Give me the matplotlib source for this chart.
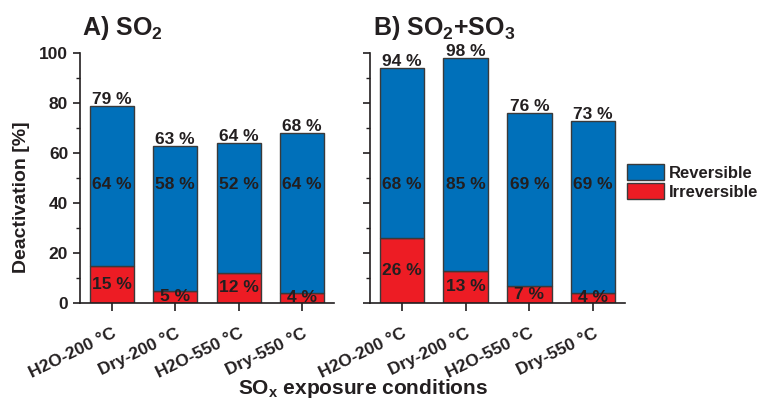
import numpy as np
import matplotlib
matplotlib.use("Agg")
import matplotlib.pyplot as plt
from matplotlib.ticker import MultipleLocator

plt.rcParams['font.family'] = ['Liberation Sans', 'DejaVu Sans']
plt.rcParams['font.weight'] = 'bold'
plt.rcParams['mathtext.fontset'] = 'custom'
plt.rcParams['mathtext.rm'] = 'Liberation Sans:bold'
plt.rcParams['mathtext.bf'] = 'Liberation Sans:bold'
plt.rcParams['mathtext.it'] = 'Liberation Sans:bold'

# Data
conditions = ['H2O-200 °C', 'Dry-200 °C', 'H2O-550 °C', 'Dry-550 °C']
irrev_a = [15, 5, 12, 4]
rev_a = [64, 58, 52, 64]
irrev_b = [26, 13, 7, 4]
rev_b = [68, 85, 69, 69]

BLUE = '#0070BA'
RED = '#ED1C24'
EDGE = '#3a3a3a'
TXT = '#231F20'

fig = plt.figure(figsize=(7.61, 4.0), dpi=100)
ax_a = fig.add_axes([80 / 761, 1 - 303 / 400, 254 / 761, 250 / 400])
ax_b = fig.add_axes([370 / 761, 1 - 303 / 400, 255 / 761, 250 / 400])


def draw_panel(ax, irrev, rev, show_labels):
    x = np.arange(1, len(conditions) + 1)
    irrev = np.array(irrev)
    rev = np.array(rev)
    total = irrev + rev
    ax.bar(x, irrev, width=0.7, color=RED, edgecolor=EDGE, linewidth=1,
           label='Irreversible')
    ax.bar(x, rev, bottom=irrev, width=0.7, color=BLUE, edgecolor=EDGE,
           linewidth=1, label='Reversible')

    for xi, ir, rv, tt in zip(x, irrev, rev, total):
        ax.text(xi, tt - 0.5, f'{tt} %', ha='center', va='bottom',
                fontsize=12.5, color=TXT)
        ax.text(xi, 47.5, f'{rv} %', ha='center', va='center',
                fontsize=12.5, color=TXT)
        ax.text(xi, max(ir / 2, 2.2), f'{ir} %', ha='center', va='center',
                fontsize=12.5, color=TXT)

    ax.set_xlim(0.5, 4.5)
    ax.set_ylim(0, 100)
    ax.set_xticks(x)
    ax.set_xticklabels(conditions, rotation=26, ha='right',
                       rotation_mode='anchor', fontsize=12.5, color=TXT)
    ax.yaxis.set_major_locator(MultipleLocator(20))
    ax.yaxis.set_minor_locator(MultipleLocator(10))
    ax.tick_params(axis='both', which='major', direction='out', length=5,
                   width=1.2, color=TXT, labelsize=12.5, labelcolor=TXT)
    ax.tick_params(axis='y', which='minor', direction='out', length=3,
                   width=1.0, color=TXT)
    ax.tick_params(axis='x', which='major', length=6, pad=10)
    if not show_labels:
        ax.tick_params(axis='y', labelleft=False)
    for s in ['top', 'right']:
        ax.spines[s].set_visible(False)
    for s in ['left', 'bottom']:
        ax.spines[s].set_color(TXT)
        ax.spines[s].set_linewidth(1.2)


draw_panel(ax_a, irrev_a, rev_a, True)
draw_panel(ax_b, irrev_b, rev_b, False)

fig.text(82 / 761, 1 - 35 / 400, r'A) SO$_2$', fontsize=18, color=TXT,
         ha='left', va='baseline')
fig.text(373 / 761, 1 - 35 / 400, r'B) SO$_2$+SO$_3$', fontsize=18,
         color=TXT, ha='left', va='baseline')

fig.text(22 / 761, 1 - 197 / 400, 'Deactivation [%]', rotation=90,
         fontsize=14, color=TXT, ha='center', va='center')
fig.text(363 / 761, 1 - 389 / 400, r'SO$_\mathrm{x}$ exposure conditions',
         fontsize=15, color=TXT, ha='center', va='center')

handles, labels = ax_b.get_legend_handles_labels()
fig.legend(handles[::-1], labels[::-1], loc='upper left',
           bbox_to_anchor=(627 / 761, 1 - 164 / 400), frameon=False,
           fontsize=12, handlelength=2.2, handleheight=1.1,
           labelspacing=0.15, handletextpad=0.3, borderpad=0,
           borderaxespad=0, labelcolor=TXT)

fig.savefig('out.png', dpi=100)
